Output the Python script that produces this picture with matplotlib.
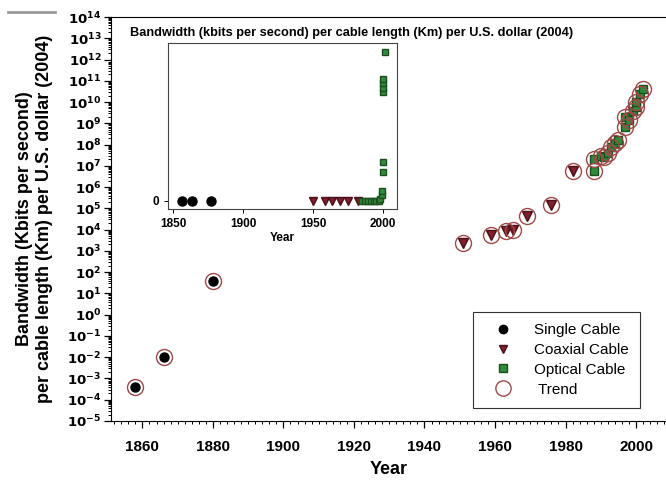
import numpy as np
import matplotlib
matplotlib.use('Agg')
import matplotlib.pyplot as plt
from matplotlib.lines import Line2D
from matplotlib.ticker import FixedLocator, MultipleLocator, LogLocator, NullFormatter, FuncFormatter

plt.rcParams['font.family'] = ['Liberation Sans', 'DejaVu Sans']

# main plot data (bandwidth per km per dollar)
single_year = [1858, 1866, 1880]
single_val = [4e-4, 1e-2, 4e1]

coax_year = [1951, 1959, 1963, 1965, 1969, 1976, 1982]
coax_val = [2.3e3, 5.5e3, 9e3, 1e4, 4.5e4, 1.4e5, 6e6]

optic_year = [1988, 1988, 1990, 1991, 1992, 1993, 1994, 1995, 1997, 1997, 1998, 1999, 2000, 2000, 2001, 2002]
optic_val = [6e6, 2e7, 3e7, 2.5e7, 4e7, 8e7, 1.2e8, 1.6e8, 7e8, 2e9, 1.5e9, 4e9, 6e9, 1e10, 2.5e10, 4e10]

# inset data (linear scale)
in_single_year = [1856, 1863, 1877]
in_single_val = [0, 0, 0]
in_coax_year = [1950, 1958, 1963, 1969, 1975, 1982]
in_coax_val = [0, 0, 0, 0, 0, 0]
in_optic_year = [1985, 1987, 1989, 1991, 1993, 1995, 1997, 1998, 1999, 1999, 2000, 2000,
                 2000, 2000, 2000, 2000, 2001]
in_optic_val = [0, 0, 0, 0, 0, 0, 0, 0.03e12, 0.1e12, 0.17e12, 0.49e12, 0.66e12,
                1.83e12, 1.89e12, 1.97e12, 2.05e12, 2.5e12]

red = '#7d1f2c'
green = '#2f8a3a'
trend = '#9c4a48'

fig = plt.figure(figsize=(6.66, 4.83), dpi=100)
ax = fig.add_axes([0.1667, 0.1284, 0.8333, 0.8364])

trend_year = single_year + coax_year + optic_year
trend_val = single_val + coax_val + optic_val
ax.plot(single_year, single_val, 'o', color='black', ms=6.5, ls='none', zorder=3)
ax.plot(coax_year, coax_val, 'v', color=red, mec='#4a0f18', ms=6.5, ls='none', zorder=3)
ax.plot(optic_year, optic_val, 's', color=green, mec='#1d4d1f', ms=5.5, ls='none', zorder=3)
ax.plot(trend_year, trend_val, 'o', mfc='none', mec=trend, mew=1.0, ms=11.5, ls='none', zorder=4)

ax.set_yscale('log')
ax.set_ylim(1e-5, 1e14)
ax.set_xlim(1851.1, 2008.5)
ax.yaxis.set_major_locator(FixedLocator([10.0**k for k in range(-5, 15)]))
ax.yaxis.set_minor_locator(LogLocator(base=10, subs=np.arange(2, 10), numticks=100))
ax.yaxis.set_minor_formatter(NullFormatter())
ax.yaxis.set_major_formatter(FuncFormatter(
    lambda v, p: r'$\mathbf{10^{%d}}$' % int(round(np.log10(v)))))
ax.xaxis.set_major_locator(MultipleLocator(20))
ax.xaxis.set_minor_locator(MultipleLocator(2))
ax.tick_params(axis='x', which='major', length=5, width=0.9, labelsize=11, pad=9)
ax.tick_params(axis='y', which='major', length=5, width=0.9, labelsize=9.5, pad=2)
ax.tick_params(axis='both', which='minor', length=2.5, width=0.7)
for lab in ax.get_xticklabels():
    lab.set_fontweight('bold')
ax.spines['right'].set_visible(False)
ax.set_xlabel('Year', fontsize=13, fontweight='bold', labelpad=5)
ax.set_ylabel('Bandwidth (Kbits per second)\nper cable length (Km) per U.S. dollar (2004)',
              fontsize=13, fontweight='bold', labelpad=10)

handles = [
    Line2D([], [], marker='o', color='black', ls='none', ms=6),
    Line2D([], [], marker='v', color=red, mec='#4a0f18', ls='none', ms=6),
    Line2D([], [], marker='s', color=green, mec='#1d4d1f', ls='none', ms=5.5),
    Line2D([], [], marker='o', mfc='none', mec=trend, ls='none', ms=11, mew=1.0),
]
leg = ax.legend(handles, ['Single Cable', 'Coaxial Cable', 'Optical Cable', ' Trend'],
                loc='upper left', bbox_to_anchor=(473.3 / 666, (483 - 311.7) / 483),
                bbox_transform=fig.transFigure, borderaxespad=0, fancybox=False,
                edgecolor='#333333', fontsize=11, handletextpad=0.8, labelspacing=0.38,
                borderpad=0.75, handlelength=2.4, framealpha=1)
leg.get_frame().set_linewidth(0.8)

# inset
ins = fig.add_axes([0.2527, 0.5667, 0.343, 0.3437])
ins.plot(in_single_year, in_single_val, 'o', color='black', ms=6.5, ls='none')
ins.plot(in_coax_year, in_coax_val, 'v', color=red, mec='#4a0f18', ms=6, ls='none')
ins.plot(in_optic_year, in_optic_val, 's', color=green, mec='#1d4d1f', ms=5, ls='none')
ins.set_xlim(1846.4, 2009.6)
ins.set_ylim(-1.39e11, 2.64e12)
ins.set_yticks([0])
ins.set_yticklabels(['0'])
ins.set_xticks([1850, 1900, 1950, 2000])
ins.tick_params(labelsize=8.5, length=3, width=0.7)
for lab in ins.get_xticklabels() + ins.get_yticklabels():
    lab.set_fontweight('bold')
for s in ins.spines.values():
    s.set_linewidth(0.8)
    s.set_color('#444444')
ins.set_xlabel('Year', fontsize=8.5, fontweight='bold', labelpad=1)
fig.text(130 / 666, 1 - 33 / 483,
         'Bandwidth (kbits per second) per cable length (Km) per U.S. dollar (2004)',
         fontsize=9.2, fontweight='bold', va='center', ha='left')

# grey mark at top left
fig.add_artist(Line2D([8 / 666, 55 / 666], [1 - 12 / 483, 1 - 12 / 483],
                      color='#999999', lw=2))

fig.savefig('out.png', dpi=100)
